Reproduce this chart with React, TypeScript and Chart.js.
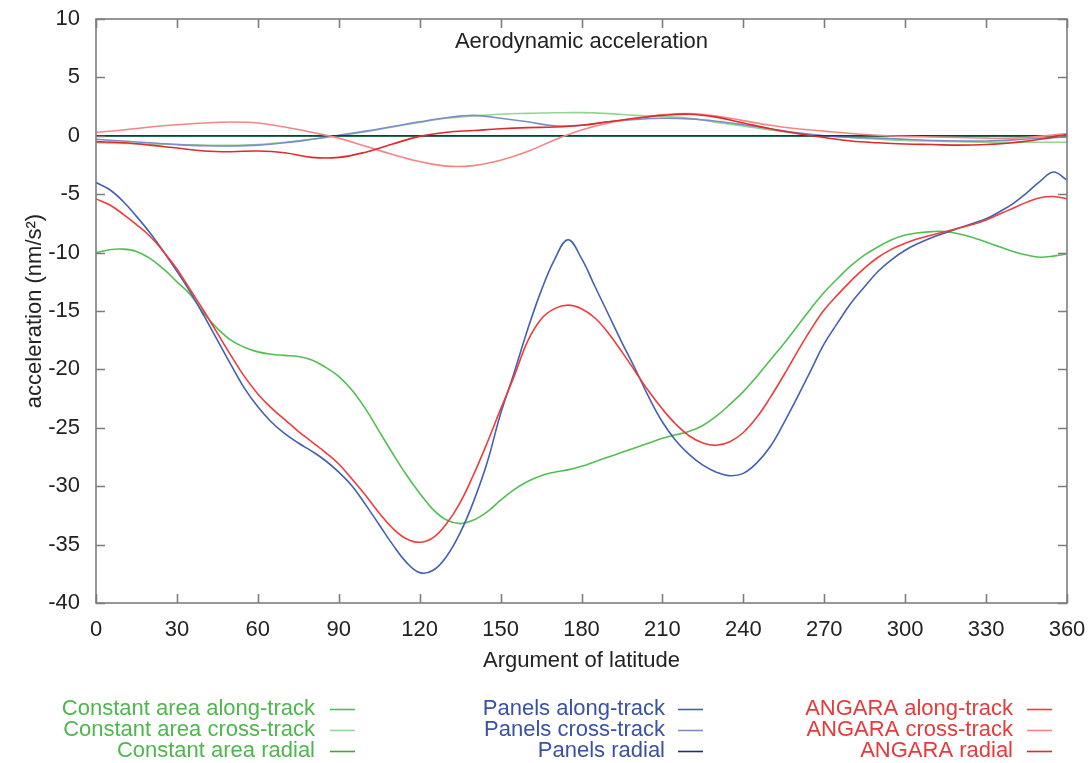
import React, { useEffect, useRef } from "react";
import { Chart, registerables } from "chart.js";
Chart.register(...registerables);

// ---------- data ----------
const angles5 = [0,5,10,15,20,25,30,35,40,45,50,55,60,65,70,75,80,85,90,95,100,105,110,115,120,125,130,135,140,145,150,155,160,165,170,175,180,185,190,195,200,205,210,215,220,225,230,235,240,245,250,255,260,265,270,275,280,285,290,295,300,305,310,315,320,325,330,335,340,345,350,355,360];
const angles10 = [0,10,20,30,40,50,60,70,80,90,100,110,120,130,140,150,160,170,180,190,200,210,220,230,240,250,260,270,280,290,300,310,320,330,340,350,360];

// along-track (5 degree steps)
const constAlong = [-10.0,-9.75,-9.7,-9.9,-10.5,-11.4,-12.5,-13.6,-15.2,-16.5,-17.5,-18.1,-18.5,-18.7,-18.8,-18.9,-19.2,-19.8,-20.6,-21.8,-23.4,-25.3,-27.2,-29.0,-30.6,-32.0,-32.9,-33.2,-32.9,-32.2,-31.2,-30.3,-29.6,-29.1,-28.8,-28.6,-28.3,-27.9,-27.5,-27.1,-26.7,-26.3,-25.9,-25.6,-25.3,-24.8,-24.0,-23.0,-21.9,-20.6,-19.2,-17.8,-16.3,-14.8,-13.4,-12.2,-11.1,-10.2,-9.5,-8.9,-8.5,-8.3,-8.2,-8.2,-8.4,-8.7,-9.1,-9.5,-9.9,-10.2,-10.4,-10.3,-10.1];
const panelsAlong = [-4.0,-4.6,-5.6,-6.9,-8.3,-9.9,-11.6,-13.4,-15.4,-17.5,-19.6,-21.6,-23.2,-24.5,-25.5,-26.3,-27.0,-27.8,-28.8,-30.0,-31.6,-33.3,-35.0,-36.5,-37.4,-37.2,-36.0,-34.0,-31.3,-28.0,-23.8,-20.3,-16.6,-13.3,-10.6,-8.9,-10.5,-12.9,-15.3,-17.7,-20.0,-22.4,-24.5,-26.1,-27.3,-28.2,-28.8,-29.1,-28.9,-28.0,-26.6,-24.6,-22.4,-20.1,-17.8,-16.0,-14.3,-12.9,-11.6,-10.6,-9.8,-9.2,-8.7,-8.3,-7.9,-7.5,-7.1,-6.5,-5.8,-4.9,-3.9,-3.1,-3.8];
const angaraAlong = [-5.4,-5.9,-6.7,-7.6,-8.6,-9.9,-11.4,-13.2,-15.0,-16.9,-18.8,-20.6,-22.1,-23.3,-24.3,-25.3,-26.2,-27.1,-28.1,-29.4,-30.8,-32.3,-33.6,-34.5,-34.8,-34.4,-33.2,-31.4,-29.0,-26.3,-23.4,-20.6,-17.6,-15.7,-14.8,-14.5,-14.8,-15.6,-16.9,-18.5,-20.2,-21.9,-23.4,-24.7,-25.7,-26.3,-26.5,-26.2,-25.4,-24.1,-22.4,-20.5,-18.5,-16.6,-14.9,-13.6,-12.4,-11.3,-10.4,-9.7,-9.2,-8.8,-8.5,-8.2,-7.9,-7.6,-7.2,-6.7,-6.2,-5.7,-5.3,-5.2,-5.4];

// cross-track and radial (10 degree steps)
const constCross = [-0.6,-0.65,-0.7,-0.75,-0.8,-0.82,-0.75,-0.55,-0.3,0.0,0.35,0.75,1.15,1.5,1.7,1.85,1.92,1.97,1.98,1.9,1.75,1.65,1.5,1.15,0.85,0.5,0.2,0.0,-0.15,-0.3,-0.4,-0.45,-0.5,-0.55,-0.55,-0.55,-0.55];
const constRadial = [-0.03,-0.03,-0.03,-0.03,-0.03,-0.03,-0.03,-0.03,-0.03,-0.03,-0.03,-0.03,-0.04,-0.04,-0.04,-0.04,-0.04,-0.04,-0.04,-0.04,-0.04,-0.04,-0.04,-0.04,-0.04,-0.04,-0.04,-0.04,-0.04,-0.04,-0.04,-0.04,-0.04,-0.04,-0.04,-0.04,-0.04];
const panelsCross = [-0.3,-0.45,-0.6,-0.75,-0.85,-0.87,-0.8,-0.6,-0.3,0.05,0.4,0.8,1.2,1.55,1.75,1.5,1.2,0.85,0.9,1.2,1.4,1.5,1.45,1.25,0.95,0.6,0.25,0.0,-0.15,-0.2,-0.3,-0.4,-0.45,-0.45,-0.35,-0.2,-0.1];
const panelsRadial = [0,0,0,0,0,0,0,0,0,0,0,0,0,0,0,0,0,0,0,0,0,0,0,0,0,0,0,0,0,0,0,0,0,0,0,0,0];
const angaraCross = [0.3,0.5,0.75,0.95,1.1,1.18,1.1,0.75,0.3,-0.2,-0.9,-1.6,-2.2,-2.6,-2.55,-2.1,-1.35,-0.35,0.5,1.1,1.5,1.8,1.9,1.7,1.3,0.9,0.6,0.4,0.2,0.05,-0.05,-0.1,-0.15,-0.2,-0.2,-0.05,0.2];
const angaraRadial = [-0.5,-0.6,-0.8,-1.05,-1.3,-1.36,-1.3,-1.45,-1.85,-1.85,-1.4,-0.7,-0.05,0.3,0.45,0.6,0.7,0.75,0.9,1.2,1.5,1.75,1.85,1.6,1.1,0.6,0.2,-0.15,-0.45,-0.6,-0.7,-0.75,-0.8,-0.75,-0.6,-0.3,0.1];

const xTickStep = 30;
const yTickStep = 5;

const seriesLabels = [
  "Constant area along-track", "Constant area cross-track", "Constant area radial",
  "Panels along-track", "Panels cross-track", "Panels radial",
  "ANGARA along-track", "ANGARA cross-track", "ANGARA radial",
];
const seriesColors = [
  "#52bf52", "#93d693", "#3da83d",
  "#4460b0", "#7f8cc8", "#1f2f6e",
  "#f03c3c", "#f58585", "#df2a2a",
];
const groupTextColors = ["#4cb84c", "#3a52a6", "#e83a3a"];

const FONT_FAMILY = "'Liberation Sans', Arial, Helvetica, sans-serif";
const FONT_SIZE = 22;

const framePlugin = {
  id: "frame",
  afterDraw(chart: any) {
    const { ctx, chartArea } = chart;
    const { left, right, top, bottom } = chartArea;
    const xs = chart.scales.x;
    const ys = chart.scales.y;
    ctx.save();
    ctx.strokeStyle = "#7d7d7d";
    ctx.lineWidth = 1.6;
    ctx.strokeRect(left, top, right - left, bottom - top);
    const tl = 9;
    ctx.beginPath();
    xs.ticks.forEach((t: any) => {
      const px = Math.round(xs.getPixelForValue(t.value)) + 0.5;
      ctx.moveTo(px, bottom); ctx.lineTo(px, bottom - tl);
      ctx.moveTo(px, top); ctx.lineTo(px, top + tl);
    });
    ys.ticks.forEach((t: any) => {
      const py = Math.round(ys.getPixelForValue(t.value)) + 0.5;
      ctx.moveTo(left, py); ctx.lineTo(left + tl, py);
      ctx.moveTo(right, py); ctx.lineTo(right - tl, py);
    });
    ctx.stroke();

    // title inside plot
    ctx.fillStyle = "#222";
    ctx.font = `${FONT_SIZE}px ${FONT_FAMILY}`;
    ctx.textAlign = "center";
    ctx.textBaseline = "middle";
    ctx.fillText("Aerodynamic acceleration", (left + right) / 2, 42);

    // legend
    const colText = [315, 665, 1013];
    const colLine = [[330, 355], [678, 703], [1027, 1052]];
    const rowY = [709, 730, 751];
    ctx.textAlign = "right";
    chart.data.datasets.forEach((ds: any, i: number) => {
      const c = Math.floor(i / 3);
      const r = i % 3;
      ctx.fillStyle = groupTextColors[c];
      ctx.fillText(ds.label, colText[c], rowY[r]);
      ctx.strokeStyle = ds.borderColor;
      ctx.lineWidth = 1.6;
      ctx.beginPath();
      ctx.moveTo(colLine[c][0], rowY[r] + 0.5);
      ctx.lineTo(colLine[c][1], rowY[r] + 0.5);
      ctx.stroke();
    });
    ctx.restore();
  },
};

export default function App() {
  const ref = useRef<HTMLCanvasElement>(null);
  useEffect(() => {
    const mk = (xv: number[], yv: number[]) => xv.map((x, i) => ({ x, y: yv[i] }));
    const series = [
      mk(angles5, constAlong), mk(angles10, constCross), mk(angles10, constRadial),
      mk(angles5, panelsAlong), mk(angles10, panelsCross), mk(angles10, panelsRadial),
      mk(angles5, angaraAlong), mk(angles10, angaraCross), mk(angles10, angaraRadial),
    ];
    const chart = new Chart(ref.current as HTMLCanvasElement, {
      type: "line",
      data: {
        datasets: series.map((d, i) => ({
          label: seriesLabels[i],
          data: d,
          borderColor: seriesColors[i],
          backgroundColor: seriesColors[i],
          borderWidth: 1.6,
          pointRadius: 0,
          tension: 0.4,
          fill: false,
          order: series.length - i,
        })),
      },
      options: {
        responsive: false,
        animation: false,
        devicePixelRatio: 1,
        layout: { padding: { top: 19, right: 21, left: 0, bottom: 0 } },
        plugins: { legend: { display: false }, tooltip: { enabled: false }, title: { display: false } },
        scales: {
          x: {
            type: "linear",
            min: 0,
            max: 360,
            grid: { display: false },
            border: { display: false },
            ticks: { stepSize: xTickStep, padding: 6, color: "#222", font: { family: FONT_FAMILY, size: FONT_SIZE }, maxRotation: 0 },
            title: { display: true, text: "Argument of latitude", color: "#222", font: { family: FONT_FAMILY, size: FONT_SIZE }, padding: { top: 0, bottom: 89 } },
            afterFit: (s: any) => { s.height = 160; s.paddingLeft = 0; s.paddingRight = 0; },
          },
          y: {
            type: "linear",
            min: -40,
            max: 10,
            grid: { display: false },
            border: { display: false },
            ticks: { stepSize: yTickStep, padding: 8, color: "#222", font: { family: FONT_FAMILY, size: FONT_SIZE } },
            title: { display: true, text: "acceleration (nm/s²)", color: "#222", font: { family: FONT_FAMILY, size: FONT_SIZE }, padding: { top: 22, bottom: 0 } },
            afterFit: (s: any) => { s.width = 96; s.paddingTop = 0; s.paddingBottom = 0; },
          },
        },
      },
      plugins: [framePlugin],
    });
    return () => chart.destroy();
  }, []);
  return (
    <div style={{ position: "absolute", left: 0, top: 0, width: 1088, height: 763, background: "#fff" }}>
      <canvas ref={ref} width={1088} height={763} style={{ display: "block" }} />
    </div>
  );
}
